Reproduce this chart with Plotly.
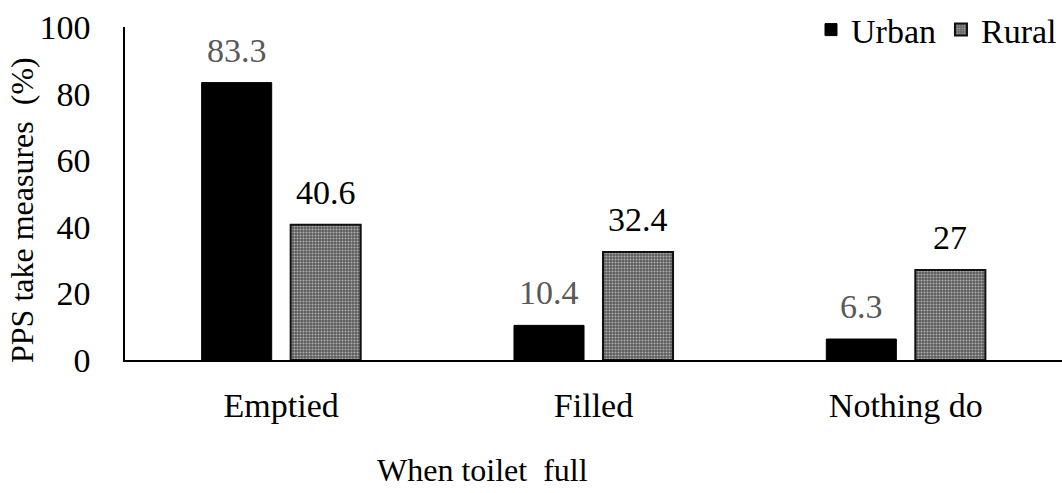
import plotly.graph_objects as go

categories = ["Emptied", "Filled", "Nothing do"]
urban = [83.3, 10.4, 6.3]
rural = [40.6, 32.4, 27]
urban_labels = ["83.3", "10.4", "6.3"]
rural_labels = ["40.6", "32.4", "27"]
y_ticks = [0, 20, 40, 60, 80, 100]

FONT = "Liberation Serif"

fig = go.Figure()
fig.add_trace(go.Bar(
    name="Urban", x=categories, y=urban,
    marker=dict(color="black", line=dict(color="black", width=1)),
))
fig.add_trace(go.Bar(
    name="Rural", x=categories, y=rural,
    marker=dict(
        color="#666666",
        line=dict(color="#111", width=2),
        pattern=dict(shape=".", fgcolor="white", bgcolor="#5a5a5a",
                     size=3, solidity=0.4),
    ),
))

# value labels above each bar
for i, c in enumerate(categories):
    fig.add_annotation(x=c, y=urban[i], text=urban_labels[i], xref="x", yref="y",
                       xshift=-44.5, yshift=12, yanchor="bottom", showarrow=False,
                       font=dict(family=FONT, size=34, color="#595959"))
    fig.add_annotation(x=c, y=rural[i], text=rural_labels[i], xref="x", yref="y",
                       xshift=44.5, yshift=12, yanchor="bottom", showarrow=False,
                       font=dict(family=FONT, size=34, color="black"))

fig.add_annotation(text="When toilet &nbsp;full", xref="paper", yref="paper",
                   x=(482 - 125) / 937, y=-(470 - 360) / 333, xanchor="center",
                   yanchor="middle", showarrow=False,
                   font=dict(family=FONT, size=32, color="black"))
fig.add_annotation(text="PPS take measures &nbsp;(%)", xref="paper", yref="paper",
                   x=-(125 - 22) / 937, y=(360 - 210) / 333, textangle=-90,
                   xanchor="center", yanchor="middle", showarrow=False,
                   font=dict(family=FONT, size=32, color="black"))

fig.update_layout(
    width=1062, height=493,
    margin=dict(l=125, r=0, t=27, b=133, autoexpand=False),
    paper_bgcolor="white", plot_bgcolor="white",
    barmode="group", bargap=0.43, bargroupgap=0.213,
    font=dict(family=FONT, size=34, color="black"),
    showlegend=True,
    legend=dict(orientation="h", x=1.0, xanchor="right", y=(360 - 30) / 333,
                yanchor="middle", font=dict(family=FONT, size=34), itemwidth=30,
                bgcolor="rgba(0,0,0,0)", tracegroupgap=0),
    xaxis=dict(showline=True, linecolor="black", linewidth=1.5, ticks="",
               showgrid=False, ticklabelstandoff=14),
    yaxis=dict(range=[0, 100], tickvals=y_ticks, showline=True, linecolor="black",
               linewidth=1.5, ticks="", showgrid=False, zeroline=False,
               ticklabelstandoff=26),
)

fig.write_html("out.html")
